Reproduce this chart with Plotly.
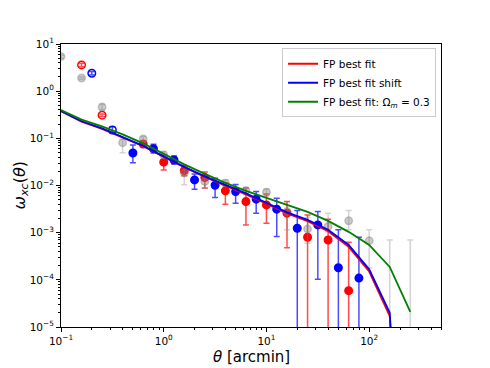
import plotly.graph_objects as go

# ---------------- data ----------------
# model curves (theta in arcmin)
theta_model = [0.1, 0.1585, 0.2512, 0.3981, 0.631, 1.0, 1.585, 2.512, 3.981, 6.31,
               10.0, 15.85, 25.12, 39.81, 63.1, 100.0, 158.5, 251.2]
fp_best = [0.375, 0.226, 0.159, 0.105, 0.068, 0.0405, 0.0243, 0.0152, 0.0100, 0.0065,
           0.0041, 0.00255, 0.00176, 0.00107, 5.0e-4, 1.5e-4, 1.7e-5, 1e-12]
fp_shift = [0.381, 0.230, 0.162, 0.107, 0.069, 0.0414, 0.0248, 0.0156, 0.0103, 0.0068,
            0.00428, 0.00269, 0.00187, 0.00115, 5.5e-4, 1.67e-4, 2.0e-5, 1e-12]
fp_om03 = [0.40, 0.249, 0.179, 0.121, 0.078, 0.0467, 0.028, 0.0176, 0.0114, 0.0077,
           0.00546, 0.00398, 0.00276, 0.00178, 0.00104, 5.5e-4, 1.88e-4, 2.1e-5]

# red measurements (negative sign = |w| shown with open marker); lo = 0 -> bar reaches 0
red_theta = [0.1585, 0.2512, 0.631, 1.0, 1.585, 2.512, 3.981, 6.31, 10.0, 15.85, 25.12, 39.81, 63.1]
red_w = [-3.6, -0.31, 0.076, 0.0312, 0.0207, 0.0147, 0.0077, 0.00456, 0.00388, 0.00259, 8.0e-4, 7.0e-4, 5.9e-5]
red_hi = [3.9, 0.33, 0.088, 0.0445, 0.0264, 0.0194, 0.0115, 0.0089, 0.00664, 0.00456, 0.00238, 0.00193, 6.3e-4]
red_lo = [3.3, 0.29, 0.066, 0.0214, 0.016, 0.0089, 0.0040, 0.00146, 0.00159, 0.00048, 0, 0, 0]

# blue measurements
blue_theta = [0.1995, 0.3162, 0.5012, 0.7943, 1.259, 1.995, 3.162, 5.012, 7.943, 12.59, 19.95, 31.62, 50.12, 79.43]
blue_w = [-2.4, -0.15, 0.049, 0.0605, 0.0348, 0.01315, 0.01014, 0.00743, 0.00513, 0.00315, 0.00124, 0.00146, 1.8e-4, 1.09e-4]
blue_hi = [2.6, 0.175, 0.0724, 0.075, 0.0424, 0.0176, 0.0142, 0.01045, 0.00743, 0.00538, 0.00294, 0.0028, 0.00115, 8.0e-4]
blue_lo = [2.2, 0.13, 0.0305, 0.0487, 0.0287, 0.00836, 0.00555, 0.00422, 0.00259, 8.3e-4, 0, 1.03e-4, 0, 0]

# gray measurements (None = not positive, only upper bar visible)
gray_theta = [0.1, 0.1585, 0.2512, 0.3981, 0.631, 1.0, 1.585, 2.512, 3.981, 6.31, 10.0, 15.85,
              25.12, 39.81, 63.1, 100.0, 158.5, 251.2]
gray_w = [5.4, 1.9, 0.46, 0.081, 0.097, 0.0445, 0.0185, 0.0121, 0.0112, 0.0078, 0.0072, 0.0028,
          0.00119, 0.00135, 0.00178, 6.7e-4, None, None]
gray_hi = [5.8, 2.0, 0.53, 0.0957, 0.109, 0.0526, 0.0254, 0.0168, 0.0132, 0.0089, 0.0084, 0.0045,
           0.0021, 0.00259, 0.00294, 0.00115, 7.0e-4, 7.0e-4]
gray_lo = [5.0, 1.8, 0.40, 0.0497, 0.084, 0.0377, 0.0104, 0.00877, 0.0099, 0.0065, 0.0061, 0.00115,
           6.0e-4, 0.00105, 0.00115, 1.8e-4, 0, 0]

x_tickvals = [0.1, 1, 10, 100]
x_ticktext = ["10<sup>\u22121</sup>", "10<sup>0</sup>", "10<sup>1</sup>", "10<sup>2</sup>"]
y_tickvals = [1e-5, 1e-4, 1e-3, 1e-2, 1e-1, 1, 10]
y_ticktext = ["10<sup>\u22125</sup>", "10<sup>\u22124</sup>", "10<sup>\u22123</sup>", "10<sup>\u22122</sup>",
              "10<sup>\u22121</sup>", "10<sup>0</sup>", "10<sup>1</sup>"]
x_title = "<i>\u03b8</i> [arcmin]"
y_title = "<i>\u03c9</i><sub><i>xc</i></sub>(<i>\u03b8</i>)"

FONT = "DejaVu Sans"
fig = go.Figure()


def add_points(theta, w, hi, lo, color, barcolor):
    y, up, dn, sym, op = [], [], [], [], []
    for t, v, h, l in zip(theta, w, hi, lo):
        if v is None:
            y.append(h); up.append(0); dn.append(h); sym.append("circle"); op.append(0)
        else:
            a = abs(v)
            y.append(a); up.append(h - a); dn.append(a - l)
            sym.append("circle-open" if v < 0 else "circle"); op.append(1)
    fig.add_trace(go.Scatter(
        x=theta, y=y, mode="markers", showlegend=False, hoverinfo="skip",
        marker=dict(size=7.5, color=color, symbol=sym, opacity=op, line=dict(width=1.5, color=color)),
        error_y=dict(type="data", symmetric=False, array=up, arrayminus=dn,
                     color=barcolor, thickness=1.5, width=3),
    ))


add_points(red_theta, red_w, red_hi, red_lo, "red", "rgba(255,0,0,0.7)")
add_points(blue_theta, blue_w, blue_hi, blue_lo, "blue", "rgba(0,0,255,0.7)")
add_points(gray_theta, gray_w, gray_hi, gray_lo, "rgba(128,128,128,0.4)", "rgba(128,128,128,0.35)")

fig.add_trace(go.Scatter(x=theta_model, y=fp_best, mode="lines", name="FP best fit",
                         line=dict(color="red", width=1.8)))
fig.add_trace(go.Scatter(x=theta_model, y=fp_shift, mode="lines", name="FP best fit shift",
                         line=dict(color="blue", width=1.8)))
fig.add_trace(go.Scatter(x=theta_model, y=fp_om03, mode="lines",
                         name="FP best fit: \u03a9<sub><i>m</i></sub> = 0.3",
                         line=dict(color="green", width=1.8)))

minor_x = [m * 10.0 ** e for e in range(-1, 3) for m in range(2, 10)]
minor_y = [m * 10.0 ** e for e in range(-5, 1) for m in range(2, 10)]

axis_common = dict(type="log", showgrid=False, zeroline=False, showline=True, linecolor="black",
                   linewidth=1, mirror=True, ticks="outside", ticklen=4, tickwidth=1, tickcolor="black",
                   tickfont=dict(family=FONT, size=10.5, color="black"))

fig.update_xaxes(**axis_common, range=[-1, 2.699], tickmode="array", tickvals=x_tickvals,
                 ticktext=x_ticktext,
                 minor=dict(tickmode="array", tickvals=minor_x, ticks="outside", ticklen=2,
                            tickwidth=0.8, tickcolor="black"))
fig.update_yaxes(**axis_common, range=[-5, 1], tickmode="array", tickvals=y_tickvals,
                 ticktext=y_ticktext,
                 minor=dict(tickmode="array", tickvals=minor_y, ticks="outside", ticklen=2,
                            tickwidth=0.8, tickcolor="black"))

fig.add_annotation(text=x_title, xref="paper", yref="paper", x=0.5, y=0, yanchor="middle",
                   yshift=-30, showarrow=False, font=dict(family=FONT, size=15, color="black"))
fig.add_annotation(text=y_title, xref="paper", yref="paper", x=0, y=0.5, xanchor="center",
                   xshift=-41, textangle=-90, showarrow=False,
                   font=dict(family=FONT, size=16, color="black"))

fig.update_layout(
    width=490, height=368,
    margin=dict(l=61, r=49, t=44, b=41, autoexpand=False),
    paper_bgcolor="white", plot_bgcolor="white",
    font=dict(family=FONT, color="black"),
    legend=dict(x=0.987, y=0.985, xanchor="right", yanchor="top", bgcolor="white",
                bordercolor="#cccccc", borderwidth=1, font=dict(family=FONT, size=10.5),
                tracegroupgap=0, itemwidth=30),
)

fig.write_html("out.html", config={"displayModeBar": False},
               post_script="document.body.style.margin='0px';")
